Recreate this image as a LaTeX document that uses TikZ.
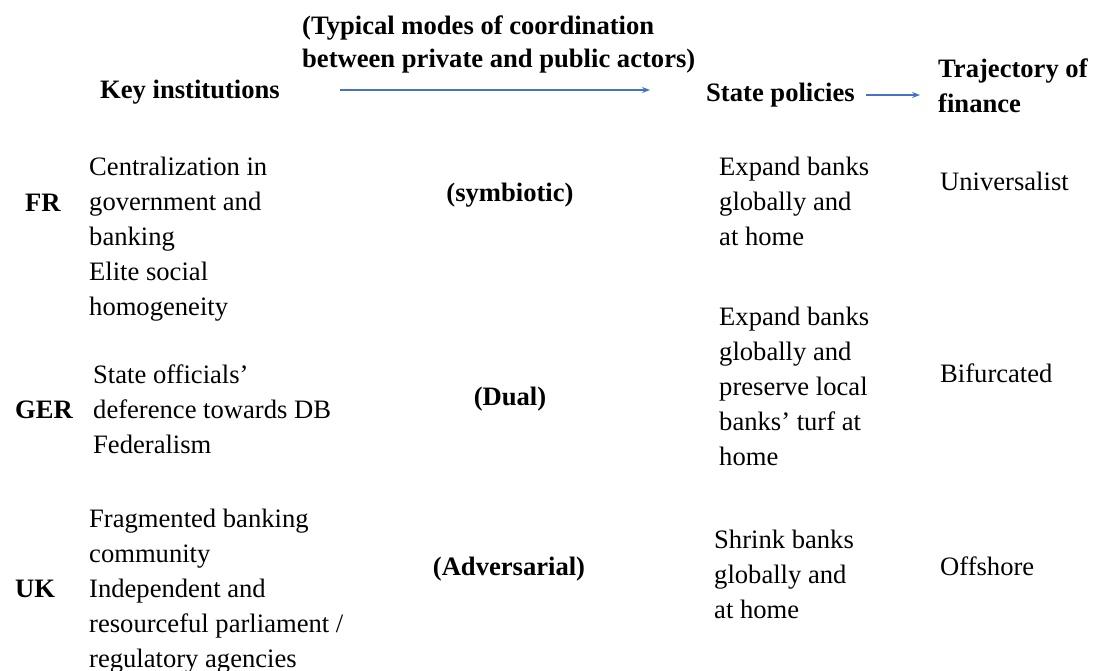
\documentclass[tikz,border=0pt]{standalone}
\usepackage{fontspec}
\setmainfont{Liberation Serif}
\usetikzlibrary{arrows.meta}
\definecolor{arrowblue}{RGB}{68,114,196}
\tikzset{
  txt/.style={anchor=base west, inner sep=0pt, align=left, font=\fontsize{26.6}{35}\selectfont},
  hdr/.style={txt, font=\fontsize{26.6}{33}\selectfont\bfseries},
  hdrb/.style={txt, font=\fontsize{26.6}{35}\selectfont\bfseries},
  mode/.style={anchor=base, inner sep=0pt, font=\fontsize{26.6}{35}\selectfont\bfseries},
  flow/.style={draw=arrowblue, line width=1.1pt, -{Stealth[length=8pt,width=6pt]}}
}
\begin{document}
\begin{tikzpicture}[x=1pt,y=-1pt]
\useasboundingbox (0,0) rectangle (1093,670);
% headers (anchor = baseline of last line)
\node[hdr] (hkey) at (100,98) {Key institutions};
\node[hdr] (hmode) at (302,67) {(Typical modes of coordination\\between private and public actors)};
\node[hdr] (hstate) at (706,101) {State policies};
\node[hdrb] (htraj) at (938,112) {Trajectory of\\finance};
\coordinate (a1s) at (340,90);
\coordinate (a1e) at (650,90);
\draw[flow] (a1s) -- (a1e);
\coordinate (a2s) at (866,95);
\coordinate (a2e) at (920,95);
\draw[flow] (a2s) -- (a2e);
% rows
\node[hdrb] (fr) at (25,211) {FR};
\node[txt] (frk) at (89,315) {Centralization in\\government and\\banking\\Elite social\\homogeneity};
\node[mode] (frm) at (510,201) {(symbiotic)};
\node[txt] (frs) at (719,245) {Expand banks\\globally and\\at home};
\node[txt] (frt) at (940,190) {Universalist};

\node[hdrb] (ger) at (15,418) {GER};
\node[txt] (gerk) at (93,453) {State officials'\\deference towards DB\\Federalism};
\node[mode] (germ) at (510,405) {(Dual)};
\node[txt] (gers) at (719,465) {Expand banks\\globally and\\preserve local\\banks' turf at\\home};
\node[txt] (gert) at (940,382) {Bifurcated};

\node[hdrb] (uk) at (15,597) {UK};
\node[txt] (ukk) at (89,667) {Fragmented banking\\community\\Independent and\\resourceful parliament /\\regulatory agencies};
\node[mode] (ukm) at (509,575) {(Adversarial)};
\node[txt] (uks) at (714,618) {Shrink banks\\globally and\\at home};
\node[txt] (ukt) at (940,575) {Offshore};
\end{tikzpicture}
\end{document}
